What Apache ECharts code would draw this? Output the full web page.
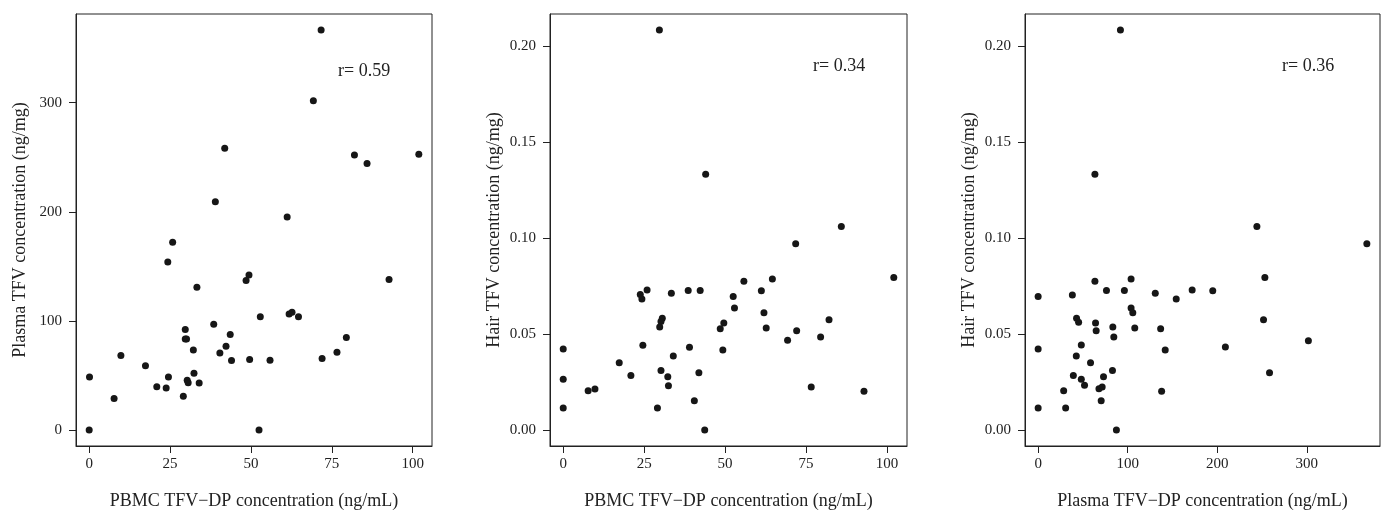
<!DOCTYPE html>
<html>
<head>
<meta charset="utf-8">
<script src="https://cdn.jsdelivr.net/npm/echarts@6/dist/echarts.min.js"></script>
<style>
html,body{margin:0;padding:0;background:#fff;}
#c{width:1386px;height:515px;}
</style>
</head>
<body>
<div id="c"></div>
<script>
// Panel 1: PBMC TFV-DP (x) vs Plasma TFV (y)
const pbmc1 = [71.7,69.3,41.9,82.0,101.9,85.9,39.0,61.2,25.8,24.3,49.4,48.5,92.7,33.3,0.1,0,7.7,9.8,17.4,20.9,23.8,24.5,29.1,29.7,29.7,30.1,32.2,32.4,30.3,30.6,34.0,38.5,40.4,42.3,43.6,44.0,49.6,52.5,52.9,55.9,61.8,62.7,64.7,72.0,76.6,79.5];
const plasma1 = [366.6,301.8,258.2,252.1,252.7,244.3,209.1,195.2,172.1,153.9,142.1,137.0,137.9,130.9,48.5,0,28.8,68.2,58.8,39.7,38.5,48.5,30.9,92.1,83.4,83.4,73.4,52.1,45.7,43.4,43.0,97.0,70.6,76.7,87.6,63.6,64.5,0,103.9,63.9,106.4,107.9,103.9,65.5,71.2,84.8];

// Panel 2: PBMC TFV-DP (x) vs Hair TFV (y)
const pbmc2 = [29.7,44.0,85.9,71.8,102.1,64.6,55.8,25.9,23.8,33.4,38.6,42.3,61.2,52.5,24.3,52.9,62.0,62.7,30.6,30.2,29.8,49.6,48.5,72.1,82.1,69.3,79.5,0,24.6,39.0,49.3,34.0,17.3,0,20.9,30.2,32.3,32.5,41.9,7.7,9.8,76.6,92.9,40.5,0,29.1,43.7];
const hair2 = [0.2084,0.1333,0.1060,0.0970,0.0794,0.0787,0.0775,0.0730,0.0706,0.0713,0.0727,0.0727,0.0725,0.0696,0.0682,0.0636,0.0611,0.0532,0.0582,0.0565,0.0537,0.0557,0.0527,0.0517,0.0574,0.0467,0.0484,0.0422,0.0441,0.0431,0.0417,0.0386,0.0351,0.0265,0.0284,0.0310,0.0278,0.0231,0.0298,0.0205,0.0213,0.0224,0.0202,0.0153,0.0114,0.0114,0];

// Panel 3: Plasma TFV-DP (x) vs Hair TFV (y)
const plasma3 = [91.9,63.4,244.3,367.1,253.2,63.4,103.8,76.3,96.3,130.8,172.0,195.0,0,38.2,154.2,103.8,105.7,42.9,45.2,64.1,64.8,83.4,107.9,136.8,251.7,84.5,301.8,0,48.2,141.9,209.1,42.6,58.5,83.0,258.4,39.3,73.0,48.2,51.8,28.5,67.9,71.5,137.9,70.4,0,30.7,87.4];
const hair3 = [0.2084,0.1333,0.1060,0.0970,0.0794,0.0775,0.0787,0.0727,0.0727,0.0713,0.0730,0.0725,0.0696,0.0704,0.0682,0.0636,0.0611,0.0582,0.0562,0.0557,0.0517,0.0537,0.0532,0.0527,0.0574,0.0484,0.0465,0.0422,0.0443,0.0417,0.0432,0.0386,0.0351,0.0310,0.0298,0.0284,0.0278,0.0265,0.0233,0.0205,0.0215,0.0224,0.0202,0.0153,0.0114,0.0114,0];

// Tick labels
const ticksPBMC = [0,25,50,75,100];
const ticksPlasma = [0,100,200,300];
const ticksHair = [0,0.05,0.10,0.15,0.20];

const xNames = ['PBMC TFV\u2212DP concentration (ng/mL)','PBMC TFV\u2212DP concentration (ng/mL)','Plasma TFV\u2212DP concentration (ng/mL)'];
const yNames = ['Plasma TFV concentration (ng/mg)','Hair TFV concentration (ng/mg)','Hair TFV concentration (ng/mg)'];
const rLabels = ['r= 0.59','r= 0.34','r= 0.36'];

const FONT = '"Liberation Serif","Times New Roman",serif';
function ext(arr){const mn=Math.min(...arr),mx=Math.max(...arr);const d=(mx-mn)*0.04;return [mn-d,mx+d];}

const panels = [
  {x:pbmc1,y:plasma1,xt:ticksPBMC,yt:ticksPlasma,yd:0},
  {x:pbmc2,y:hair2,xt:ticksPBMC,yt:ticksHair,yd:2},
  {x:plasma3,y:hair3,xt:ticksPlasma,yt:ticksHair,yd:2}
];
const grids = [
  {left:76,top:14,width:356,height:436},
  {left:550,top:14,width:357,height:436},
  {left:1025,top:14,width:355,height:436}
];

const option = {
  animation:false,
  backgroundColor:'#fff',
  grid: grids.map(g=>Object.assign({show:true,borderColor:'#222',borderWidth:1,backgroundColor:'transparent'},g)),
  xAxis: panels.map((p,i)=>{const e=ext(p.x);return {
    type:'value',gridIndex:i,min:e[0],max:e[1],position:'bottom',
    name:xNames[i],nameLocation:'middle',nameGap:46,
    nameTextStyle:{fontFamily:FONT,fontSize:18,color:'#222'},
    axisLine:{show:true,onZero:false,lineStyle:{color:'#222',width:1}},splitLine:{show:false},
    axisTick:{show:true,inside:false,length:7,customValues:p.xt,lineStyle:{color:'#222'}},
    axisLabel:{customValues:p.xt,margin:11,fontFamily:FONT,fontSize:15,color:'#222',formatter:v=>String(v)}
  };}),
  yAxis: panels.map((p,i)=>{const e=ext(p.y);return {
    type:'value',gridIndex:i,min:e[0],max:e[1],position:'left',
    name:yNames[i],nameLocation:'middle',nameGap:47,
    nameTextStyle:{fontFamily:FONT,fontSize:18,color:'#222'},
    axisLine:{show:true,onZero:false,lineStyle:{color:'#222',width:1}},splitLine:{show:false},
    axisTick:{show:true,inside:false,length:7,customValues:p.yt,lineStyle:{color:'#222'}},
    axisLabel:{customValues:p.yt,margin:14,fontFamily:FONT,fontSize:15,color:'#222',formatter:v=>v.toFixed(p.yd)}
  };}),
  series: panels.map((p,i)=>({
    type:'scatter',xAxisIndex:i,yAxisIndex:i,symbol:'circle',symbolSize:7,
    itemStyle:{color:'#161616',opacity:1},
    data:p.x.map((v,k)=>[v,p.y[k]])
  })),
  graphic:[
    {type:'text',left:338,top:62,style:{text:rLabels[0],font:'18px '+FONT,fill:'#222'}},
    {type:'text',left:813,top:57,style:{text:rLabels[1],font:'18px '+FONT,fill:'#222'}},
    {type:'text',left:1282,top:57,style:{text:rLabels[2],font:'18px '+FONT,fill:'#222'}}
  ]
};
const chart = echarts.init(document.getElementById('c'),null,{renderer:'canvas'});
chart.setOption(option);
</script>
</body>
</html>
